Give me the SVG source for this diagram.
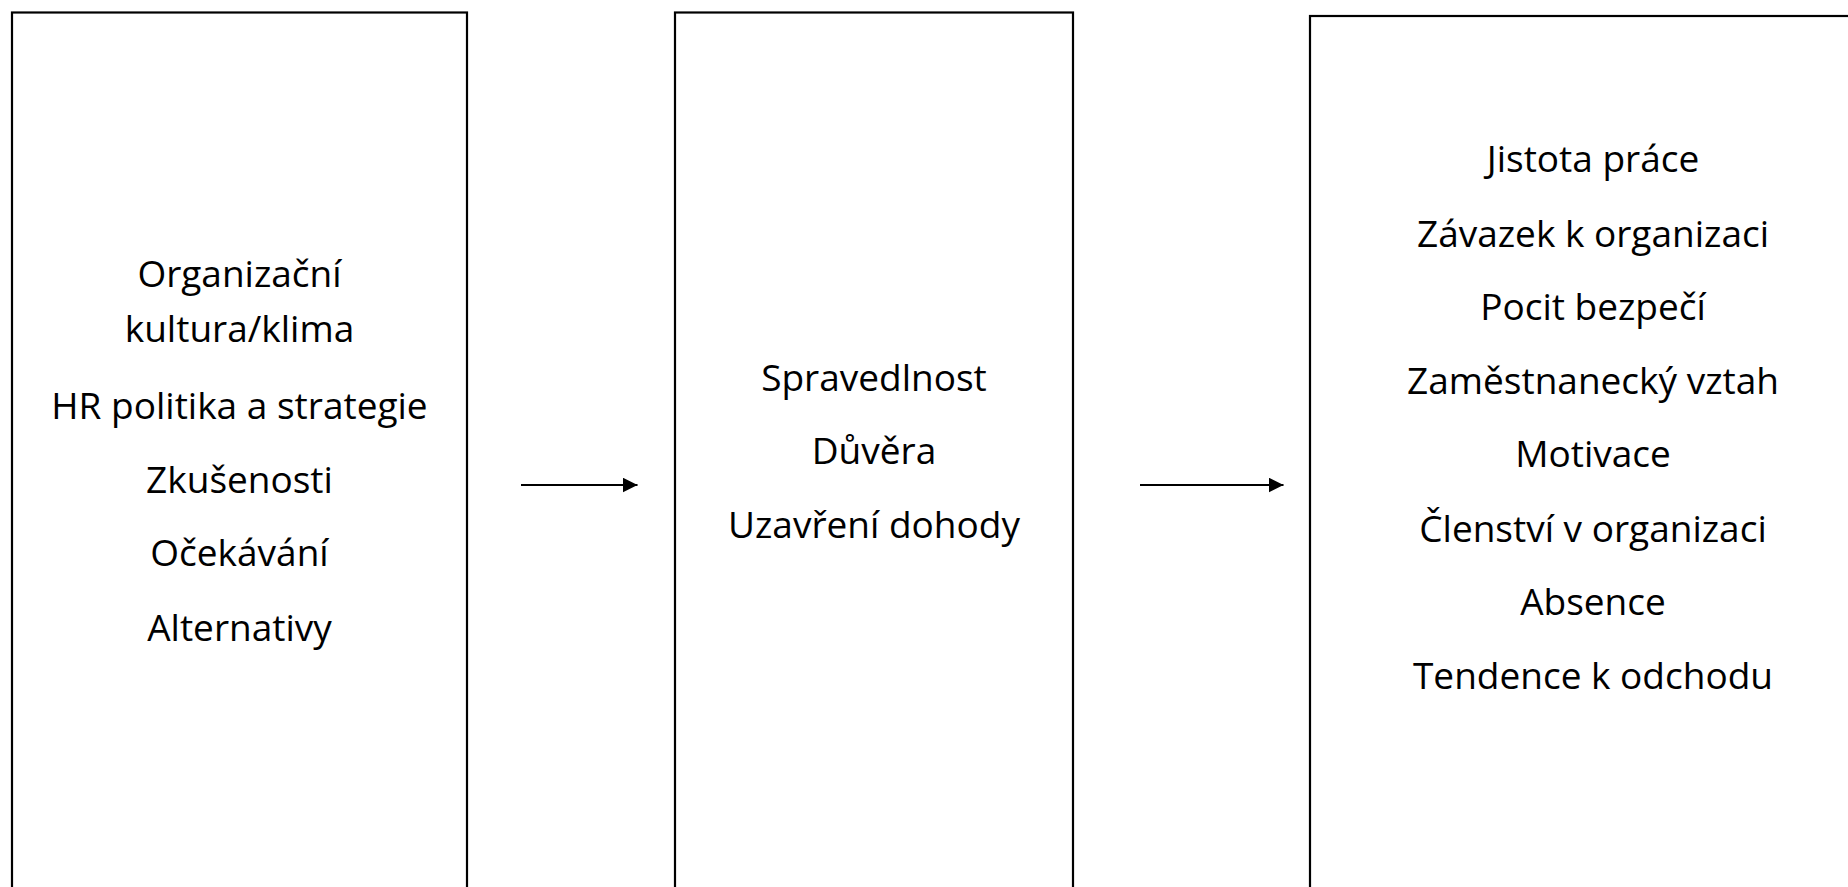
<svg xmlns="http://www.w3.org/2000/svg" width="1848" height="887" viewBox="0 0 1848 887">
<style>
.box{fill:#fff;stroke:#000;stroke-width:2.2}
.t{font-family:"Open Sans","Noto Sans","Liberation Sans",sans-serif;font-size:37px;fill:#000;text-anchor:middle}
.c{stroke:#000;stroke-width:2;fill:none}
</style>
<defs>
<marker id="ah" markerUnits="userSpaceOnUse" markerWidth="16" markerHeight="16" refX="15" refY="7.5" orient="auto">
<path d="M0,0 L15,7.5 L0,15 Z" fill="#000"/>
</marker>
</defs>
<rect width="1848" height="887" fill="#fff"/>
<g id="node-inputs">
<rect class="box" x="12" y="12.5" width="455" height="900"/>
<text class="t" x="239.5" y="287">Organizační</text>
<text class="t" x="239.5" y="342">kultura/klima</text>
<text class="t" x="239.5" y="419">HR politika a strategie</text>
<text class="t" x="239.5" y="493">Zkušenosti</text>
<text class="t" x="239.5" y="566">Očekávání</text>
<text class="t" x="239.5" y="641">Alternativy</text>
</g>
<g id="node-contract">
<rect class="box" x="675" y="12.5" width="398" height="900"/>
<text class="t" x="874" y="391">Spravedlnost</text>
<text class="t" x="874" y="464">Důvěra</text>
<text class="t" x="874" y="538">Uzavření dohody</text>
</g>
<g id="node-outcomes">
<rect class="box" x="1310" y="16" width="566" height="900"/>
<text class="t" x="1593" y="172">Jistota práce</text>
<text class="t" x="1593" y="247">Závazek k organizaci</text>
<text class="t" x="1593" y="320">Pocit bezpečí</text>
<text class="t" x="1593" y="394">Zaměstnanecký vztah</text>
<text class="t" x="1593" y="467">Motivace</text>
<text class="t" x="1593" y="542">Členství v organizaci</text>
<text class="t" x="1593" y="615">Absence</text>
<text class="t" x="1593" y="689">Tendence k odchodu</text>
</g>
<g id="connectors">
<line class="c" x1="521" y1="485" x2="637.5" y2="485" marker-end="url(#ah)"/>
<line class="c" x1="1140" y1="485" x2="1283.5" y2="485" marker-end="url(#ah)"/>
</g>
</svg>
